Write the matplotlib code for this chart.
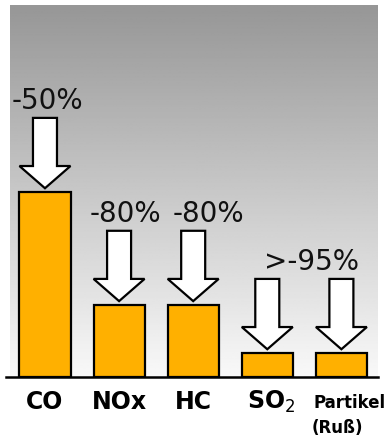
import numpy as np
import matplotlib
matplotlib.use('Agg')
import matplotlib.pyplot as plt
from matplotlib.patches import Polygon

# data (relative emission levels, CO = 100)
categories = ['CO', 'NOx', 'HC', 'SO$_2$', 'Partikel']
values = [100, 39, 39, 13, 13]
reduction_labels = ['-50%', '-80%', '-80%', '>-95%']
# which bars each reduction label belongs to
label_groups = [[0], [1], [2], [3, 4]]

bar_color = '#FFB000'
arrow_len = 38
arrow_gap = 2

fig = plt.figure(figsize=(3.87, 4.41), dpi=100)
ax = fig.add_axes([10 / 387, 64 / 441, 368 / 387, 372 / 441])

x = np.arange(len(values))
ax.set_xlim(-0.472, 4.494)
ax.set_ylim(0, 201)

# gray -> white gradient background
grad = np.linspace(0.975, 0.59, 256).reshape(-1, 1)
ax.imshow(grad, cmap='gray', vmin=0, vmax=1, aspect='auto',
          extent=[0, 1, 0, 1], transform=ax.transAxes, zorder=0,
          origin='lower')

ax.bar(x, values, width=0.69, color=bar_color, edgecolor='black',
       linewidth=1.6, zorder=2)

# down arrows above the bars
shaft = 0.162
head = 0.344
head_len = 12
for xi, v in zip(x, values):
    tip = v + arrow_gap
    top = tip + arrow_len
    pts = [(xi - shaft, top), (xi + shaft, top), (xi + shaft, tip + head_len),
           (xi + head, tip + head_len), (xi, tip), (xi - head, tip + head_len),
           (xi - shaft, tip + head_len)]
    ax.add_patch(Polygon(pts, closed=True, facecolor='white',
                         edgecolor='black', linewidth=1.6, zorder=3))

# reduction percentages
label_dx = [0.03, 0.09, 0.2, 0.1]
for lab, grp, dx in zip(reduction_labels, label_groups, label_dx):
    xc = np.mean([x[i] for i in grp])
    ytop = max(values[i] for i in grp) + arrow_gap + arrow_len
    ax.text(xc + dx, ytop + 5, lab, ha='center', va='baseline',
            fontsize=20, color='#111111', zorder=4)

# baseline
ax.axhline(0, color='black', linewidth=1.8, zorder=5, xmin=-0.01, clip_on=False)

# category labels
for i, name in enumerate(categories[:4]):
    ax.text(x[i] + (0.05 if i == 3 else 0), -13.5, name, ha='center',
            va='center', fontsize=17, fontweight='bold', clip_on=False)
ax.text(x[4] + 0.11, -14, 'Partikel', ha='center', va='center',
        fontsize=12, fontweight='bold', clip_on=False)
ax.text(x[4] - 0.05, -27.5, '(Ruß)', ha='center', va='center',
        fontsize=12, fontweight='bold', clip_on=False)

ax.axis('off')
fig.savefig('out.png', dpi=100, facecolor='white')
